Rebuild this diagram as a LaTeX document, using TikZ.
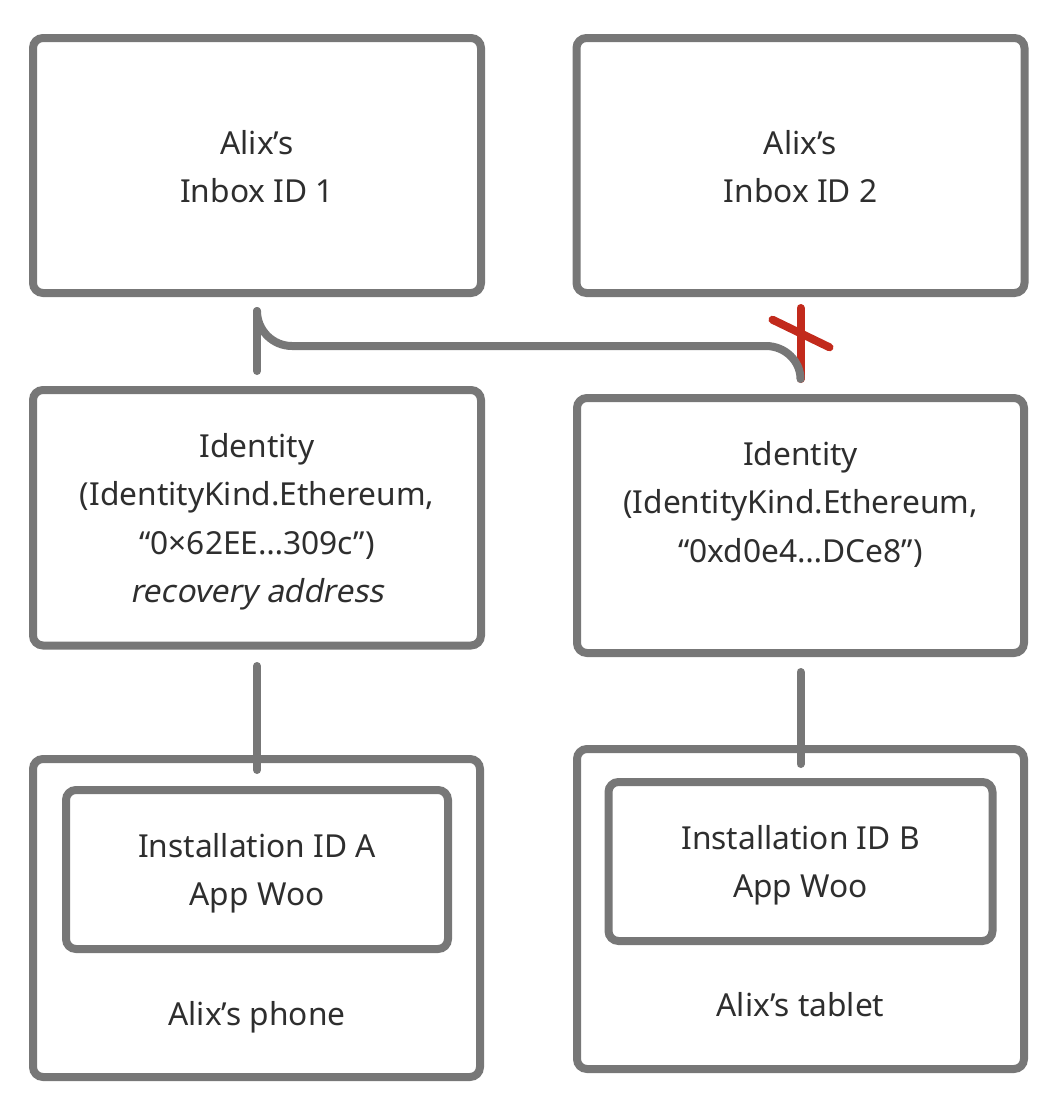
\documentclass[tikz,border=0pt]{standalone}
\usepackage{fontspec}
\setmainfont{Noto Sans}
\newfontfamily\oblfont[FakeSlant=0.2]{Noto Sans}
\usetikzlibrary{calc}
\definecolor{boxgrey}{HTML}{777777}
\definecolor{txtgrey}{HTML}{2E2E2E}
\definecolor{xred}{HTML}{C22A1C}
\begin{document}
\begin{tikzpicture}[x=1pt,y=-1pt,
  box/.style={draw=boxgrey, line width=8pt, rounded corners=10pt, inner sep=0pt, outer sep=0pt},
  conn/.style={draw=boxgrey, line width=8pt, line cap=round},
  redline/.style={draw=xred, line width=8pt, line cap=round},
  lbl/.style={anchor=base, inner sep=0pt, text=txtgrey, font=\fontsize{31.7}{36}\selectfont}]
\useasboundingbox (0,0) rectangle (1058,1106);
% boxes
\node[box, minimum width=448pt, minimum height=255pt] (in1) at (257,165.5) {};
\node[box, minimum width=448pt, minimum height=255pt] (in2) at (800.5,165.5) {};
\node[box, minimum width=448pt, minimum height=255.5pt] (id1) at (257,517.75) {};
\node[box, minimum width=447pt, minimum height=255pt] (id2) at (800.5,525.5) {};
\node[box, minimum width=447pt, minimum height=318pt] (phone) at (256.5,918) {};
\node[box, minimum width=382pt, minimum height=159pt] (inA) at (257,869.5) {};
\node[box, minimum width=447pt, minimum height=320pt] (tablet) at (800.5,909) {};
\node[box, minimum width=384pt, minimum height=159pt] (inB) at (800.5,861.5) {};
% texts
\node[lbl] (t1a) at (257,154) {Alix’s};
\node[lbl] (t1b) at (257,202.5) {Inbox ID 1};
\node[lbl] (t2a) at (800.5,154) {Alix’s};
\node[lbl] (t2b) at (800.5,202.5) {Inbox ID 2};
\node[lbl] (t3a) at (257,457) {Identity};
\node[lbl] (t3b) at (257,505.5) {(IdentityKind.Ethereum,};
\node[lbl] (t3c) at (257,554) {“0×62EE…309c”)};
\node[lbl] (t3d) at (257,602) {\oblfont recovery address};
\node[lbl] (t4a) at (800.5,465) {Identity};
\node[lbl] (t4b) at (800.5,513.5) {(IdentityKind.Ethereum,};
\node[lbl] (t4c) at (800.5,562) {“0xd0e4…DCe8”)};
\node[lbl] (t5a) at (257,857) {Installation ID A};
\node[lbl] (t5b) at (257,905) {App Woo};
\node[lbl] (t5c) at (257,1025) {Alix’s phone};
\node[lbl] (t6a) at (800.5,849) {Installation ID B};
\node[lbl] (t6b) at (800.5,897) {App Woo};
\node[lbl] (t6c) at (800.5,1016) {Alix’s tablet};
% red crossed link
\coordinate (xm) at (801,333.5);
\draw[redline] ($(in2.south)+(0,15)$) -- ($(id2.north)+(0,-19)$);
\draw[redline] ($(xm)+(-28.5,-13.8)$) -- ($(xm)+(28.5,13.8)$);
% grey connectors
\coordinate (j1) at ($(in1.south)+(0,18)$);
\coordinate (j2) at ($(id2.north)+(0,-19)$);
\draw[conn] (j1) -- ($(id1.north)+(0,-19)$);
\draw[conn] (j1) .. controls ($(j1)+(0,19.3)$) and ($(j1)+(15.7,35)$) .. ($(j1)+(35,35)$)
  -- ($(j2)+(-34.5,-33)$) .. controls ($(j2)+(-15.5,-33)$) and ($(j2)+(0,-18)$) .. (j2);
\draw[conn] ($(id1.south)+(0,20.5)$) -- ($(inA.north)+(0,-20)$);
\draw[conn] ($(id2.south)+(0,19)$) -- ($(inB.north)+(0,-18)$);
\end{tikzpicture}
\end{document}
